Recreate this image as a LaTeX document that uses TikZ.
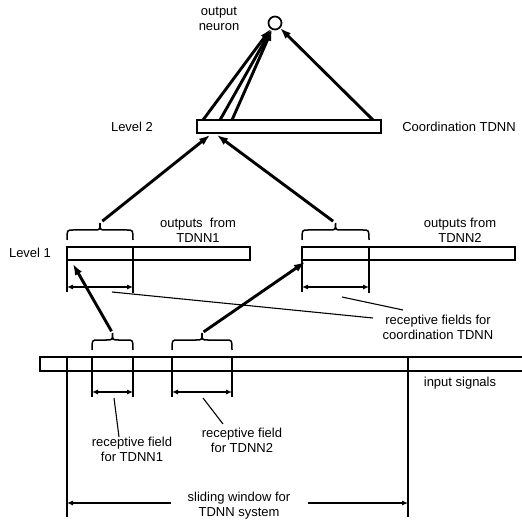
\documentclass[tikz,border=0pt]{standalone}
\usepackage{fontspec}
\setmainfont{Liberation Sans}
\usetikzlibrary{arrows.meta}

% curly bracket over a field: left x, right x, lower y of the arms, name of the tip
\newcommand{\fieldbrace}[4]{%
  \draw[brace line] (#1,#3) .. controls (#1,#3-10) .. (#1+6,#3-10)
    -- ({(#1+#2)/2-6},#3-10) .. controls ({(#1+#2)/2},#3-10) .. ({(#1+#2)/2},#3-17)
    .. controls ({(#1+#2)/2},#3-10) .. ({(#1+#2)/2+6},#3-10)
    -- (#2-6,#3-10) .. controls (#2,#3-10) .. (#2,#3);
  \coordinate (#4) at ({(#1+#2)/2},#3-17);}

\tikzset{
  bar/.style={draw, line width=2.9pt, inner sep=0pt, minimum height=13pt},
  thick arrow/.style={line width=2.9pt, -{Latex[length=11pt,width=8pt]}},
  dim arrow/.style={line width=1.1pt, {Latex[length=6pt,width=5pt]}-{Latex[length=6pt,width=5pt]}},
  one arrow/.style={line width=1.1pt, -{Latex[length=6pt,width=5pt]}},
  brace line/.style={line width=1.5pt},
  guide/.style={line width=1.1pt},
  heavy guide/.style={line width=2pt},
  txt/.style={font=\fontsize{13}{15}\selectfont, align=center, inner sep=0pt},
}

\begin{document}
\begin{tikzpicture}[x=1pt, y=-1pt]
\useasboundingbox (0,0) rectangle (522,521);

% output neuron and coordination net
\node[draw, circle, line width=1.7pt, minimum size=13pt, inner sep=0pt] (neuron) at (275,23) {};
\node[txt] (outlbl) at (219,19) {output\\neuron};
\node[bar, minimum width=184pt] (lev2) at (289,126.5) {};
\node[txt] (lev2lbl) at (132,127) {Level 2};
\node[txt] (coordlbl) at (459,127) {Coordination TDNN};

\coordinate (n1) at (203,120);
\coordinate (n2) at (220,120);
\coordinate (n3) at (232,120);
\coordinate (n4) at (373,120);
\draw[thick arrow] (n1) -- (neuron);
\draw[thick arrow] (n2) -- (neuron);
\draw[thick arrow] (n3) -- (neuron);
\draw[thick arrow] (n4) -- (neuron);

% level 1
\node[txt] (lev1lbl) at (30,253) {Level 1};
\node[bar, minimum width=183pt] (lev1a) at (158.5,253.5) {};
\node[bar, minimum width=213pt] (lev1b) at (408.5,253.5) {};
\node[txt] (out1lbl) at (198,230.5) {outputs\ \ from\\TDNN1};
\node[txt] (out2lbl) at (460,230.5) {outputs from\\TDNN2};

\fieldbrace{67}{133}{240}{b1tip}
\fieldbrace{302}{369}{240}{b2tip}
\coordinate (l2in1) at (210,135);
\coordinate (l2in2) at (217,135);
\draw[thick arrow, shorten <=3pt] (b1tip) -- (l2in1);
\draw[thick arrow, shorten <=3pt] (b2tip) -- (l2in2);

\draw[heavy guide] (67,247) -- (67,292);
\draw[guide] (133,247) -- (133,293);
\draw[heavy guide] (302,247) -- (302,292);
\draw[guide] (369,247) -- (369,293);
\draw[dim arrow] (67,287) -- (133,287);
\draw[dim arrow] (302,287) -- (369,287);

\node[txt] (rfcoord) at (438,327) {receptive fields for\\coordination TDNN};
\coordinate (rc1) at (112,292);
\coordinate (rc2) at (342,297);
\draw[guide] (rc1) -- (373,318);
\draw[guide] (rc2) -- (403,310);

% input signals
\node[bar, line width=2.6pt, minimum width=490pt, minimum height=14pt] (input) at (285,364) {};
\node[txt] (inlbl) at (460,383) {input signals};

\fieldbrace{92}{133}{350}{i1tip}
\fieldbrace{172}{232}{350}{i2tip}
\coordinate (l1in1) at (73,264);
\coordinate (l1in2) at (305,262);
\draw[thick arrow, shorten <=2pt] (i1tip) -- (l1in1);
\draw[thick arrow, shorten <=2pt] (i2tip) -- (l1in2);

\draw[heavy guide] (67,357) -- (67,517);
\draw[heavy guide] (408,357) -- (408,517);
\draw[guide] (92,357) -- (92,397);
\draw[guide] (133,357) -- (133,397);
\draw[guide] (172,357) -- (172,397);
\draw[heavy guide] (232,357) -- (232,397);
\draw[dim arrow] (92,392) -- (133,392);
\draw[dim arrow] (172,392) -- (232,392);

\node[txt] (rf1) at (132,449.5) {receptive field\\for TDNN1};
\node[txt] (rf2) at (242,440) {receptive field\\for TDNN2};
\draw[guide] (114,398) -- (rf1.north -| 119,0);
\draw[guide] (203,398) -- (223,424);

% sliding window
\node[txt, inner xsep=17pt] (swlbl) at (239,506) {sliding window for\\TDNN system};
\coordinate (swl) at (67,503);
\coordinate (swr) at (408,503);
\draw[one arrow] (swlbl.west |- swl) -- (swl);
\draw[one arrow] (swlbl.east |- swr) -- (swr);
\end{tikzpicture}
\end{document}
